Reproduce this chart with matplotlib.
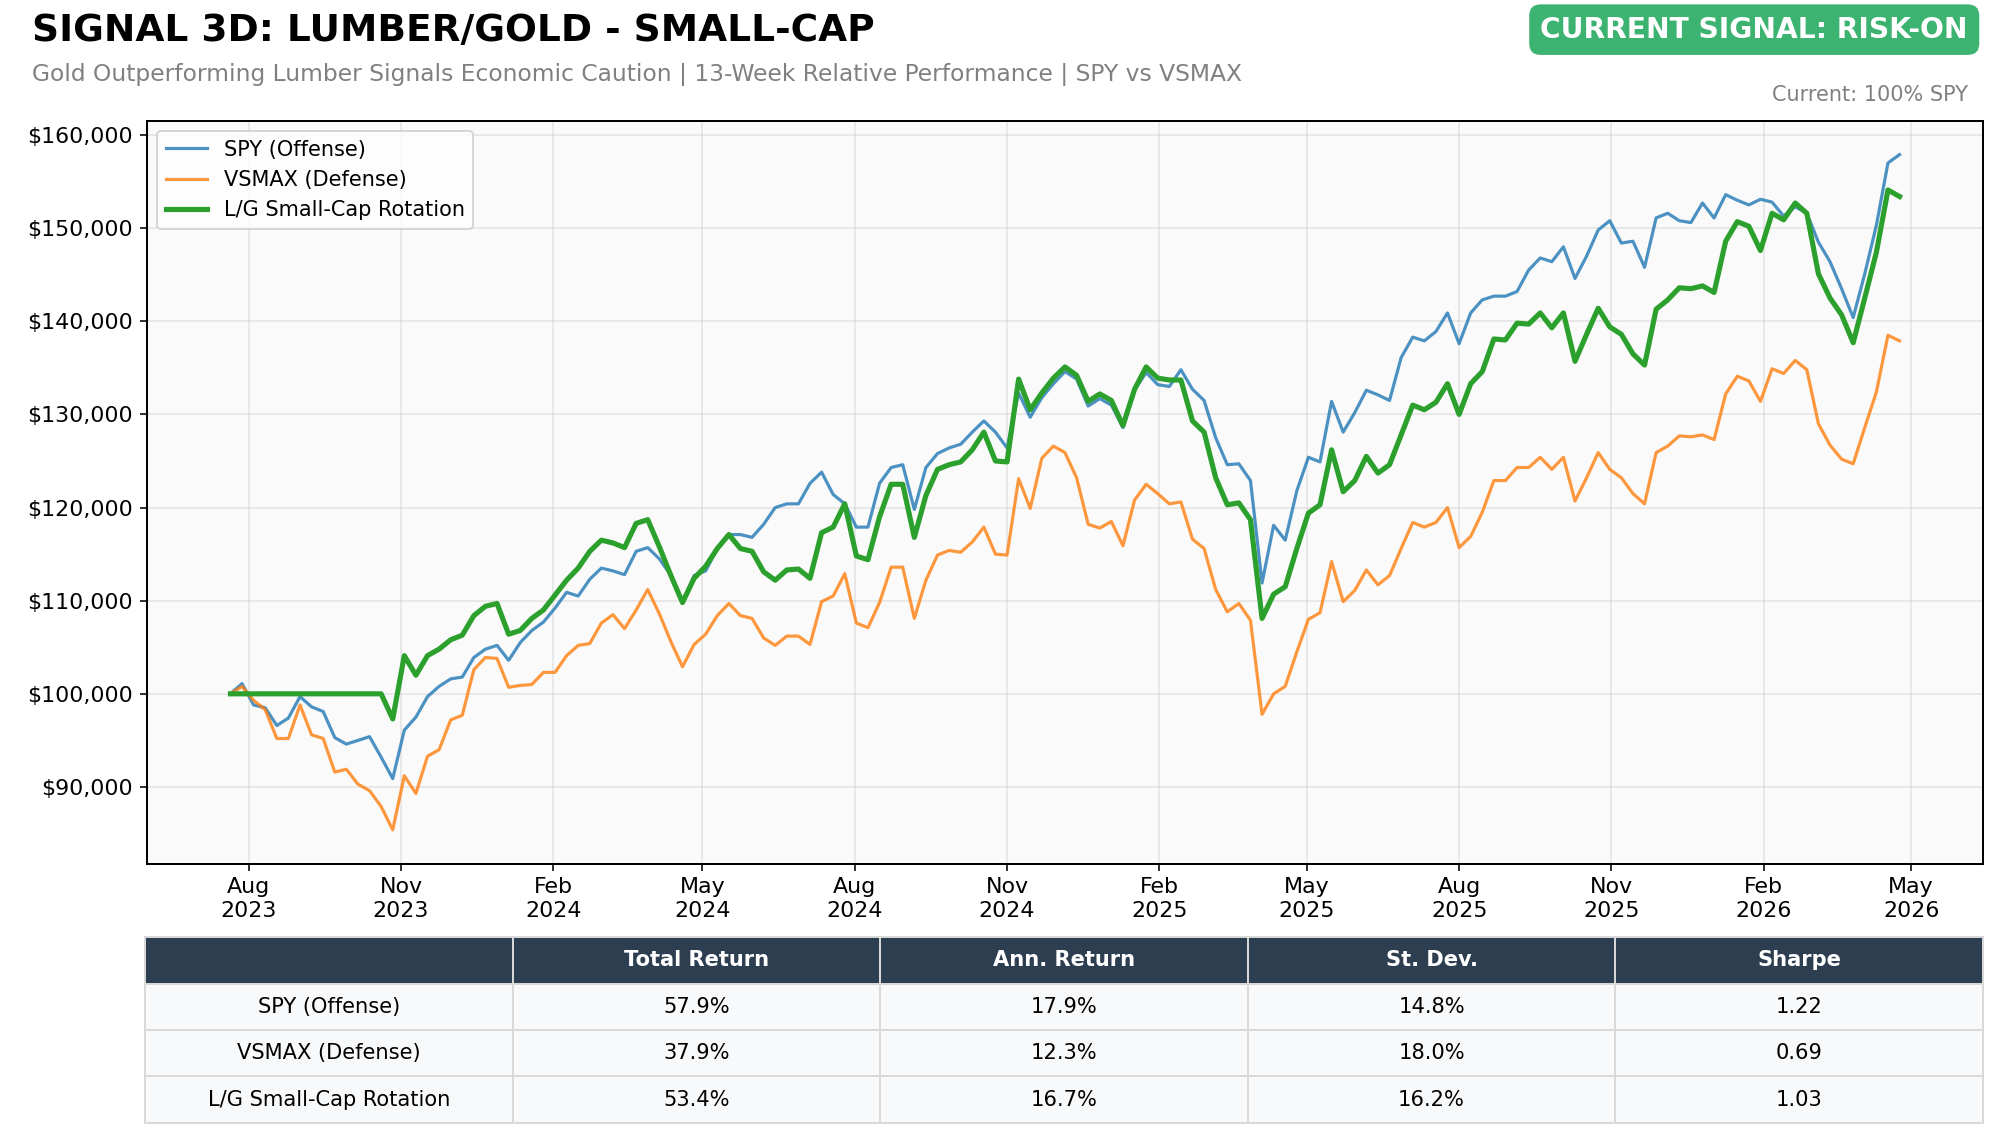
import pandas as pd
import matplotlib
matplotlib.use("Agg")
import matplotlib.pyplot as plt
import matplotlib.dates as mdates
from matplotlib.ticker import FuncFormatter

# weekly closes (Fridays), values in $ thousands
start_date = "2023-07-21"
end_date = "2026-04-24"

spy_k = [
    100.0, 101.1, 98.8, 98.5, 96.6, 97.4, 99.7, 98.6, 98.1, 95.3,
    94.6, 95.0, 95.4, 93.2, 90.9, 96.1, 97.5, 99.7, 100.8, 101.6,
    101.8, 103.9, 104.8, 105.2, 103.6, 105.5, 106.8, 107.7, 109.2, 110.9,
    110.5, 112.3, 113.5, 113.2, 112.8, 115.3, 115.7, 114.5, 112.7, 109.8,
    112.7, 113.2, 115.6, 117.1, 117.1, 116.8, 118.2, 120.0, 120.4, 120.4,
    122.6, 123.8, 121.4, 120.4, 117.9, 117.9, 122.6, 124.3, 124.6, 119.8,
    124.3, 125.8, 126.4, 126.8, 128.1, 129.3, 128.1, 126.4, 132.3, 129.7,
    131.8, 133.3, 134.6, 133.8, 130.9, 131.7, 131.0, 128.6, 132.6, 134.5,
    133.2, 133.0, 134.8, 132.7, 131.5, 127.5, 124.6, 124.7, 122.9, 111.9,
    118.1, 116.5, 121.8, 125.4, 124.9, 131.4, 128.1, 130.2, 132.6, 132.1,
    131.5, 136.1, 138.3, 137.9, 138.9, 140.9, 137.6, 140.9, 142.3, 142.7,
    142.7, 143.2, 145.5, 146.8, 146.4, 148.0, 144.6, 147.0, 149.8, 150.8,
    148.4, 148.6, 145.8, 151.1, 151.6, 150.8, 150.6, 152.7, 151.1, 153.6,
    153.0, 152.5, 153.1, 152.8, 151.3, 152.3, 151.6, 148.5, 146.4, 143.5,
    140.4, 145.1, 150.3, 157.0, 157.9,
]

vsmax_k = [
    100.0, 100.8, 99.3, 98.3, 95.2, 95.2, 98.8, 95.6, 95.2, 91.6,
    91.9, 90.3, 89.6, 87.9, 85.4, 91.2, 89.3, 93.3, 94.0, 97.2,
    97.7, 102.6, 103.9, 103.8, 100.7, 100.9, 101.0, 102.3, 102.3, 104.1,
    105.2, 105.4, 107.6, 108.5, 107.0, 109.0, 111.2, 108.6, 105.6, 102.9,
    105.3, 106.4, 108.4, 109.7, 108.4, 108.1, 106.0, 105.2, 106.2, 106.2,
    105.3, 109.9, 110.5, 112.9, 107.6, 107.1, 109.8, 113.6, 113.6, 108.1,
    112.2, 114.9, 115.4, 115.2, 116.3, 117.9, 115.0, 114.9, 123.1, 119.9,
    125.3, 126.6, 125.9, 123.2, 118.2, 117.8, 118.5, 115.9, 120.8, 122.5,
    121.5, 120.4, 120.6, 116.6, 115.6, 111.2, 108.8, 109.7, 107.9, 97.8,
    100.0, 100.8, 104.5, 108.0, 108.7, 114.2, 109.9, 111.1, 113.3, 111.7,
    112.7, 115.6, 118.4, 117.9, 118.4, 120.0, 115.7, 116.9, 119.5, 122.9,
    122.9, 124.3, 124.3, 125.4, 124.1, 125.4, 120.7, 123.2, 125.9, 124.1,
    123.2, 121.5, 120.4, 125.9, 126.6, 127.7, 127.6, 127.8, 127.3, 132.2,
    134.1, 133.6, 131.4, 134.9, 134.4, 135.8, 134.8, 129.0, 126.7, 125.2,
    124.7, 128.6, 132.4, 138.5, 137.9,
]

rotation_k = [
    100.0, 100.0, 100.0, 100.0, 100.0, 100.0, 100.0, 100.0, 100.0, 100.0,
    100.0, 100.0, 100.0, 100.0, 97.3, 104.1, 102.0, 104.1, 104.8, 105.8,
    106.3, 108.4, 109.4, 109.7, 106.4, 106.8, 108.1, 109.0, 110.6, 112.2,
    113.5, 115.3, 116.5, 116.2, 115.7, 118.3, 118.7, 115.8, 112.7, 109.8,
    112.4, 113.7, 115.6, 117.1, 115.6, 115.3, 113.1, 112.2, 113.3, 113.4,
    112.4, 117.3, 117.9, 120.4, 114.8, 114.4, 119.0, 122.5, 122.5, 116.8,
    121.3, 124.1, 124.6, 124.9, 126.2, 128.1, 125.0, 124.9, 133.8, 130.5,
    132.3, 133.9, 135.1, 134.2, 131.4, 132.2, 131.5, 128.8, 132.7, 135.1,
    133.9, 133.7, 133.7, 129.3, 128.1, 123.2, 120.3, 120.5, 118.7, 108.1,
    110.7, 111.5, 115.6, 119.4, 120.3, 126.2, 121.7, 122.9, 125.5, 123.7,
    124.6, 127.8, 131.0, 130.5, 131.3, 133.3, 130.0, 133.3, 134.6, 138.1,
    138.0, 139.8, 139.7, 140.9, 139.3, 140.9, 135.7, 138.6, 141.4, 139.4,
    138.6, 136.5, 135.3, 141.3, 142.3, 143.6, 143.5, 143.8, 143.1, 148.6,
    150.7, 150.2, 147.6, 151.6, 150.9, 152.7, 151.6, 145.1, 142.5, 140.7,
    137.7, 142.5, 147.4, 154.1, 153.4,
]

series_labels = ["SPY (Offense)", "VSMAX (Defense)", "L/G Small-Cap Rotation"]

table_header = ["", "Total Return", "Ann. Return", "St. Dev.", "Sharpe"]
table_rows = [
    ["SPY (Offense)", "57.9%", "17.9%", "14.8%", "1.22"],
    ["VSMAX (Defense)", "37.9%", "12.3%", "18.0%", "0.69"],
    ["L/G Small-Cap Rotation", "53.4%", "16.7%", "16.2%", "1.03"],
]

title = "SIGNAL 3D: LUMBER/GOLD - SMALL-CAP"
subtitle = ("Gold Outperforming Lumber Signals Economic Caution | "
            "13-Week Relative Performance | SPY vs VSMAX")
signal_text = "CURRENT SIGNAL: RISK-ON"
position_text = "Current: 100% SPY"

dates = pd.date_range(start_date, end_date, freq="W-FRI")
spy = [v * 1000 for v in spy_k]
vsmax = [v * 1000 for v in vsmax_k]
rotation = [v * 1000 for v in rotation_k]

fig = plt.figure(figsize=(14, 7.98), dpi=2000 / 14)
ax = fig.add_axes([0.0735, 0.2425, 0.918, 0.6515])
ax.set_facecolor("#fafafa")

ax.plot(dates, spy, color="#1f77b4", lw=1.6, alpha=0.8, label=series_labels[0])
ax.plot(dates, vsmax, color="#ff7f0e", lw=1.6, alpha=0.8, label=series_labels[1])
ax.plot(dates, rotation, color="#2ca02c", lw=2.6, label=series_labels[2])

ax.xaxis.set_major_locator(mdates.MonthLocator(bymonth=[2, 5, 8, 11]))
ax.xaxis.set_major_formatter(mdates.DateFormatter("%b\n%Y"))
ax.yaxis.set_major_formatter(FuncFormatter(lambda v, p: f"${v:,.0f}"))
ax.tick_params(labelsize=11.2)
ax.grid(True, alpha=0.3)
for s in ax.spines.values():
    s.set_linewidth(1.0)
ax.legend(loc="upper left", fontsize=10.5)

fig.text(0.016, 0.973, title, fontsize=18.9, fontweight="bold", va="center", ha="left")
fig.text(0.016, 0.935, subtitle, fontsize=11.8, color="gray", va="center", ha="left")
fig.text(0.984, 0.974, signal_text, fontsize=14.2, fontweight="bold", color="white",
         va="center", ha="right",
         bbox=dict(boxstyle="round,pad=0.4", facecolor="#3cb371", edgecolor="none"))
fig.text(0.984, 0.917, position_text, fontsize=10.5, color="gray", va="center", ha="right")

tax = fig.add_axes([0.0725, 0.015, 0.919, 0.163])
tax.axis("off")
tbl = tax.table(cellText=table_rows, colLabels=table_header, cellLoc="center",
                loc="center", bbox=[0, 0, 1, 1])
tbl.auto_set_font_size(False)
tbl.set_fontsize(10.6)
for (r, c), cell in tbl.get_celld().items():
    cell.set_edgecolor("#d9d9d9")
    cell.set_linewidth(1.0)
    if r == 0:
        cell.set_facecolor("#2c3e50")
        cell.set_text_props(color="white", fontweight="bold")
    else:
        cell.set_facecolor("#f8f9fa")

fig.savefig("out.png", dpi=2000 / 14)
